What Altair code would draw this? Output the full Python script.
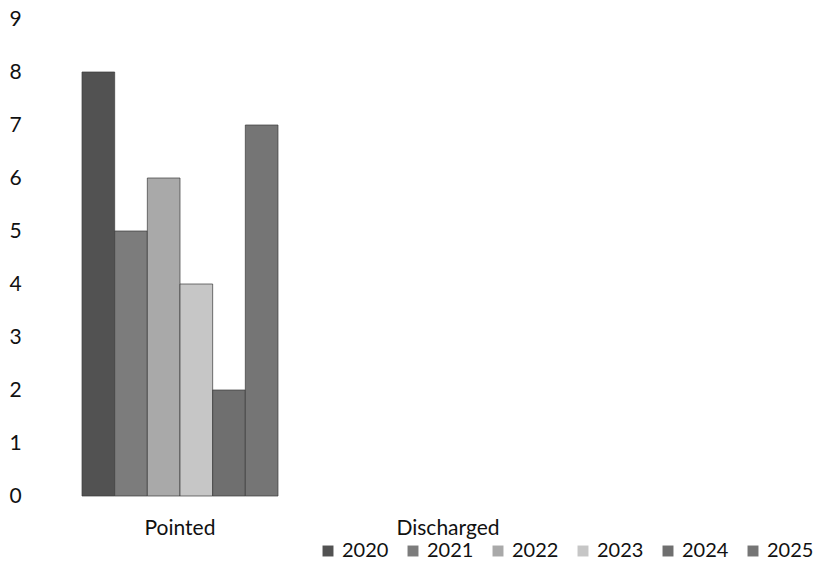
import altair as alt
import pandas as pd

categories = ["Pointed", "Discharged"]
years = ["2020", "2021", "2022", "2023", "2024", "2025"]
pointed_values = [8, 5, 6, 4, 2, 7]
colors = ["#525252", "#7c7c7c", "#a9a9a9", "#c6c6c6", "#6f6f6f", "#757575"]

df = pd.DataFrame({
    "category": ["Pointed"] * len(years),
    "year": years,
    "value": pointed_values,
})

FONT = "Lato"
FS = 21

chart = alt.Chart(df).mark_bar(stroke="#3a3a3a", strokeWidth=0.7).encode(
    x=alt.X("category:N", sort=categories,
            scale=alt.Scale(domain=categories, paddingInner=0.025, paddingOuter=0.0125),
            axis=alt.Axis(title=None, labelAngle=0, domain=False, ticks=False,
                          labelPadding=21, labelFontSize=FS, labelFont=FONT,
                          labelColor="#111111", labelBaseline="top")),
    xOffset=alt.XOffset("year:N", sort=years,
                        scale=alt.Scale(domain=years, paddingInner=0, paddingOuter=1)),
    y=alt.Y("value:Q", scale=alt.Scale(domain=[0, 9], nice=False),
            axis=alt.Axis(title=None, values=list(range(10)), domain=False, ticks=False,
                          tickSize=0, grid=False, labelAlign="left", labelPadding=37,
                          labelFontSize=FS, labelFont=FONT, labelColor="#111111")),
    color=alt.Color("year:N", sort=years,
                    scale=alt.Scale(domain=years, range=colors),
                    legend=alt.Legend(title=None, orient="none", direction="horizontal",
                                      legendX=272, legendY=522, padding=0,
                                      symbolType="square",
                                      symbolSize=120, symbolStrokeWidth=0,
                                      labelFontSize=20, labelFont=FONT, labelColor="#111111",
                                      labelOffset=4, columnPadding=14)),
).properties(
    width=536,
    height=477,
    autosize=alt.AutoSizeParams(type="none"),
    padding={"left": 38, "top": 11, "right": 239, "bottom": 65},
).configure(background="white").configure_view(stroke=None, strokeWidth=0)

chart.save("out.html", embed_options={"renderer": "svg", "actions": False})
